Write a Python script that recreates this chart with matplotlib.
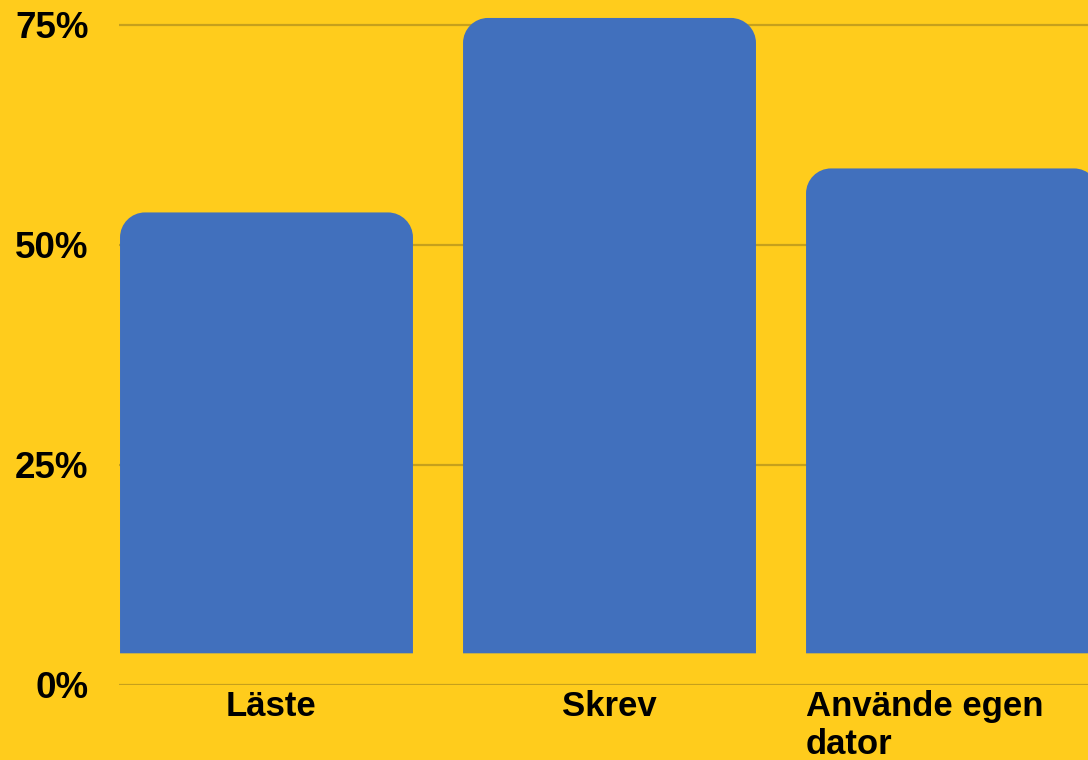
import matplotlib
matplotlib.use("Agg")
import matplotlib.pyplot as plt
from matplotlib.path import Path
from matplotlib.patches import PathPatch

categories = ["Läste", "Skrev", "Använde egen\ndator"]
values = [53.7, 75.8, 58.7]
yticks = [0, 25, 50, 75]
ytick_labels = ["0%", "25%", "50%", "75%"]

BG = "#FFCC1C"
BAR = "#4170BD"
GRID = "#C6A01C"
BAR_BASE = 3.6
BAR_W = 0.854
FONT = ["Liberation Sans", "DejaVu Sans"]

W, H, DPI = 1088, 760, 100
fig = plt.figure(figsize=(W / DPI, H / DPI), dpi=DPI, facecolor=BG)
ax_left, ax_right, ax_bottom, ax_top = 119, 1088, 685, 0
ax = fig.add_axes([ax_left / W, (H - ax_bottom) / H,
                   (ax_right - ax_left) / W, (ax_bottom - ax_top) / H])
ax.set_facecolor(BG)
ax.set_xlim(-0.43, 2.395)
ax.set_ylim(0, 685 / 8.8)
for s in ax.spines.values():
    s.set_visible(False)

ax.set_yticks(yticks)
ax.set_yticklabels(ytick_labels, fontsize=26.5, fontweight="bold", family=FONT)
ax.tick_params(axis="y", length=0, pad=22)
ax.set_xticks([])
ax.yaxis.grid(True, color=GRID, linewidth=1.6)
ax.set_axisbelow(True)

# px per data unit
px_x = (ax_right - ax_left) / (2.395 + 0.43)
px_y = 8.8
r = 25
rx, ry = r / px_x, r / px_y
k = 0.5523

for i, v in enumerate(values):
    x0, x1 = i - BAR_W / 2, i + BAR_W / 2
    y0, y1 = BAR_BASE, v
    verts = [
        (x0, y0), (x0, y1 - ry),
        (x0, y1 - ry + k * ry), (x0 + rx - k * rx, y1), (x0 + rx, y1),
        (x1 - rx, y1),
        (x1 - rx + k * rx, y1), (x1, y1 - ry + k * ry), (x1, y1 - ry),
        (x1, y0), (x0, y0),
    ]
    codes = [Path.MOVETO, Path.LINETO,
             Path.CURVE4, Path.CURVE4, Path.CURVE4,
             Path.LINETO,
             Path.CURVE4, Path.CURVE4, Path.CURVE4,
             Path.LINETO, Path.CLOSEPOLY]
    ax.add_patch(PathPatch(Path(verts, codes), facecolor=BAR,
                           edgecolor="none", zorder=3, clip_on=False))

# category labels
for i, c in enumerate(categories):
    if i == 0:
        ax.text(i + 0.013, -0.6, c, ha="center", va="top", fontsize=25,
                fontweight="bold", family=FONT, linespacing=1.2)
    elif i == 1:
        ax.text(i, -0.6, c, ha="center", va="top", fontsize=25,
                fontweight="bold", family=FONT, linespacing=1.2)
    else:
        ax.text(i - BAR_W / 2, -0.6, c, ha="left", va="top", fontsize=25,
                fontweight="bold", family=FONT, linespacing=1.2)

fig.savefig("out.png", dpi=DPI, facecolor=BG)
